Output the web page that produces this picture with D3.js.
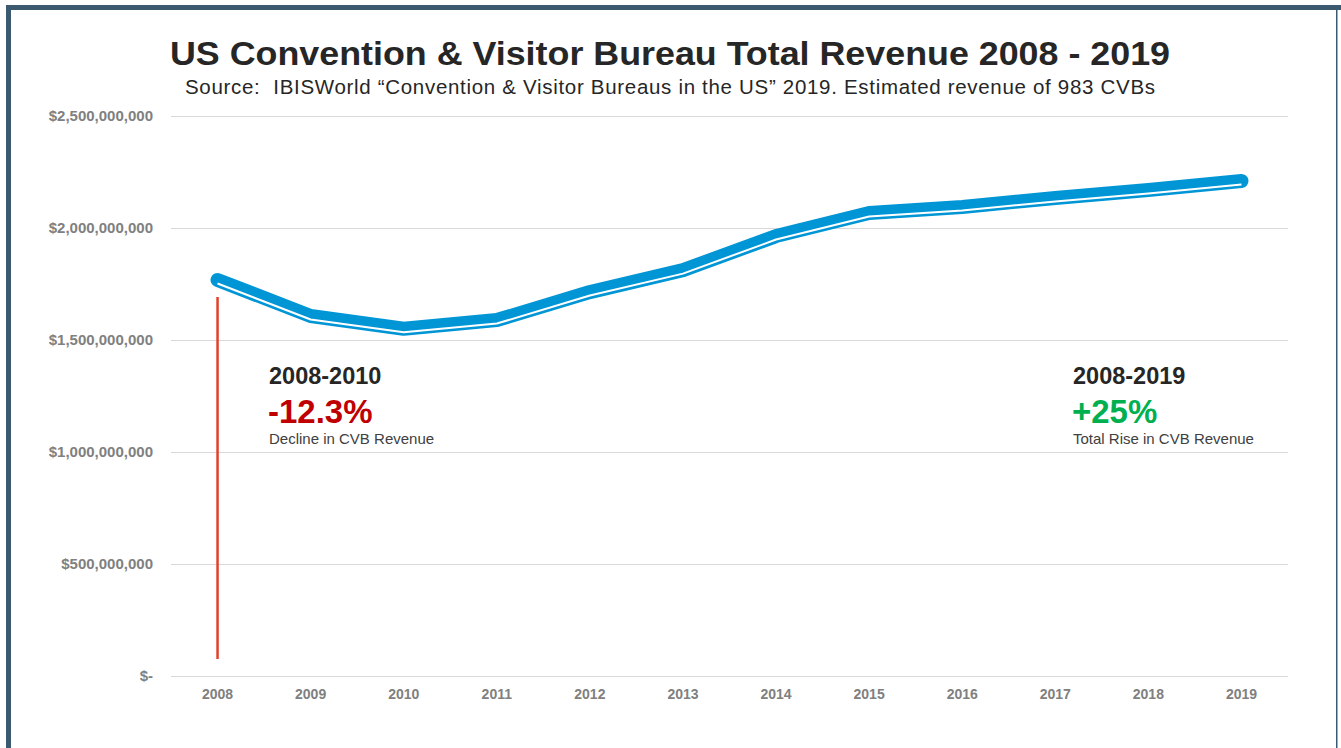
<!DOCTYPE html>
<html>
<head>
<meta charset="utf-8">
<script src="https://cdn.jsdelivr.net/npm/d3@7/dist/d3.min.js"></script>
<style>
  html, body { margin: 0; padding: 0; background: #fff; }
  svg { display: block; font-family: "Liberation Sans", Arial, sans-serif; }
  .pre { white-space: pre; }
</style>
</head>
<body>
<svg id="chart" width="1341" height="748"></svg>
<script>
// Annual revenue of US convention & visitor bureaus (USD)
const years = ["2008","2009","2010","2011","2012","2013","2014","2015","2016","2017","2018","2019"];
const revenue = [1768000000, 1607000000, 1550000000, 1589000000, 1714000000, 1812000000,
                 1964000000, 2067000000, 2094000000, 2134000000, 2170000000, 2210000000];
const yTicks = [0, 500000000, 1000000000, 1500000000, 2000000000, 2500000000];

const titleText = "US Convention & Visitor Bureau Total Revenue 2008 - 2019";
const subtitleText = "Source:  IBISWorld \u201cConvention & Visitor Bureaus in the US\u201d 2019. Estimated revenue of 983 CVBs";

const svg = d3.select("#chart");
const W = 1341, H = 748;

// frame
svg.append("rect").attr("x", 0).attr("y", 0).attr("width", W).attr("height", H).attr("fill", "#fff");
svg.append("path")
  .attr("d", `M8.5,${H} V7.5 H1338.5 V${H}`)
  .attr("fill", "none").attr("stroke", "#3b5a70").attr("stroke-width", 5);
svg.append("rect").attr("x", 1341 - 3.5).attr("y", 10).attr("width", 4).attr("height", H).attr("fill", "#fff");

const plot = { left: 171, right: 1288, top: 116, bottom: 676 };

const x = d3.scaleBand().domain(years).range([plot.left, plot.right]);
const y = d3.scaleLinear().domain([0, 2500000000]).range([plot.bottom, plot.top]);
const cx = d => x(d) + x.bandwidth() / 2;

// gridlines
svg.append("g").selectAll("line").data(yTicks).join("line")
  .attr("x1", plot.left).attr("x2", plot.right)
  .attr("y1", d => Math.round(y(d)) + 0.5).attr("y2", d => Math.round(y(d)) + 0.5)
  .attr("stroke", "#d9d9d9").attr("stroke-width", 1);

// y axis labels
const yFmt = d => d === 0 ? "$-" : "$" + d3.format(",")(d);
const yAxis = d3.axisLeft(y).tickValues(yTicks).tickFormat(yFmt).tickSize(0).tickPadding(18);
const gy = svg.append("g").attr("transform", `translate(${plot.left},0)`).call(yAxis);
gy.select(".domain").remove();
gy.selectAll("text").attr("font-family", "Liberation Sans, Arial, sans-serif")
  .attr("font-size", 15).attr("font-weight", "bold").attr("fill", "#808080");

// x axis labels
const xAxis = d3.axisBottom(x).tickSize(0).tickPadding(13);
const gx = svg.append("g").attr("transform", `translate(0,${plot.bottom})`).call(xAxis);
gx.select(".domain").remove();
gx.selectAll("text").attr("font-family", "Liberation Sans, Arial, sans-serif")
  .attr("font-size", 14).attr("font-weight", "bold").attr("fill", "#808080");

// title & source
svg.append("text").attr("x", 170).attr("y", 65)
  .attr("textLength", 1000).attr("lengthAdjust", "spacingAndGlyphs")
  .attr("font-size", 34).attr("font-weight", "bold").attr("fill", "#262626").text(titleText);
svg.append("text").attr("class", "pre").attr("x", 185).attr("y", 94)
  .attr("textLength", 970).attr("lengthAdjust", "spacing")
  .attr("font-size", 20.5).attr("fill", "#262626").text(subtitleText);

// red marker from 2008 level down to the baseline
svg.append("line")
  .attr("x1", cx("2008")).attr("x2", cx("2008"))
  .attr("y1", y(revenue[0]) + 17).attr("y2", y(0) - 17)
  .attr("stroke", "#e2402a").attr("stroke-width", 2.5);

// revenue line: thick blue stroke with a thin white inner highlight
const line = d3.line().x((d, i) => cx(years[i])).y(d => y(d));
svg.append("path").datum(revenue).attr("d", line)
  .attr("fill", "none").attr("stroke", "#0096d6").attr("stroke-width", 14)
  .attr("stroke-linecap", "round").attr("stroke-linejoin", "round");
svg.append("path").datum(revenue).attr("d", line)
  .attr("transform", "translate(0,3.5)")
  .attr("fill", "none").attr("stroke", "#fff").attr("stroke-width", 2)
  .attr("stroke-linejoin", "round");

// annotations
function note(x0, period, pct, pctColor, caption) {
  const g = svg.append("g");
  g.append("text").attr("x", x0).attr("y", 384).attr("font-size", 23.5).attr("font-weight", "bold")
    .attr("fill", "#262626").text(period);
  g.append("text").attr("x", x0 - 1).attr("y", 423).attr("font-size", 33).attr("font-weight", "bold")
    .attr("fill", pctColor).text(pct);
  g.append("text").attr("x", x0).attr("y", 444).attr("font-size", 15)
    .attr("fill", "#404040").text(caption);
}
note(269, "2008-2010", "-12.3%", "#c00000", "Decline in CVB Revenue");
note(1073, "2008-2019", "+25%", "#00b050", "Total Rise in CVB Revenue");
</script>
</body>
</html>
